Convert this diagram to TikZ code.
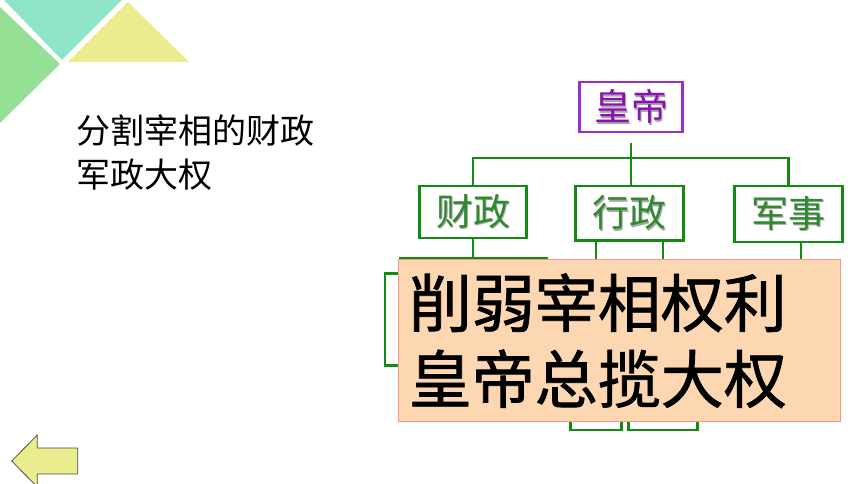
\documentclass[tikz,border=0pt]{standalone}
\usepackage{fontspec}
\setmainfont{Noto Sans CJK SC}
\newfontfamily\heavyfont[FakeBold=1.2]{Noto Sans CJK SC}
\usepackage{tikz}
\usetikzlibrary{calc}
\definecolor{tealtri}{HTML}{8EE4C8}
\definecolor{greentri}{HTML}{96E096}
\definecolor{yellowtri}{HTML}{EAEC8E}
\definecolor{empline}{HTML}{9B30C8}
\definecolor{emptext}{HTML}{8C10B4}
\definecolor{treeline}{HTML}{138A13}
\definecolor{treetext}{HTML}{2F8A2F}
\definecolor{peach}{HTML}{FCD7B2}
\definecolor{peachline}{HTML}{F3978A}
\newcommand{\shadowtext}[2]{\makebox[0pt][l]{\hspace{1.5pt}\raisebox{-1.5pt}{\textcolor{black!35}{#2}}}\textcolor{#1}{#2}}
\tikzset{
  treebox/.style={draw=treeline, line width=2.4pt, inner sep=0pt, font=\fontsize{37}{40}\selectfont},
  empbox/.style={draw=empline, line width=2.4pt, inner sep=0pt, font=\fontsize{37}{40}\selectfont},
  link/.style={treeline, line width=2.4pt}
}
\begin{document}
\begin{tikzpicture}[x=1pt,y=-1pt]
\useasboundingbox (0,0) rectangle (860,484);
\fill[tealtri] (4,0) -- (122,0) -- (62,60) -- cycle;
\fill[greentri] (0,7) -- (60,64) -- (0,123) -- cycle;
\fill[yellowtri] (128,2) -- (68,62) -- (189,62) -- cycle;

\node[anchor=west, align=left, inner sep=0pt, font=\fontsize{34}{44}\selectfont] (title) at (76,153) {分割宰相的财政\\军政大权};

\node[empbox, minimum width=103pt, minimum height=50pt] (emperor) at (631,107.3) {\shadowtext{emptext}{皇帝}};
\node[treebox, minimum width=107pt, minimum height=52pt] (finance) at (473,212) {\shadowtext{treetext}{财政}};
\node[treebox, minimum width=108pt, minimum height=54pt] (admin) at (629.3,213.3) {\shadowtext{treetext}{行政}};
\node[treebox, minimum width=108pt, minimum height=56pt] (army) at (788.3,214) {\shadowtext{treetext}{军事}};

\node[treebox, minimum width=30pt, minimum height=92pt] (finA) at (400,319.5) {};
\node[treebox, minimum width=30pt, minimum height=92pt] (finB) at (547,319.5) {};
\node[treebox, minimum width=51pt, minimum height=110pt] (admA) at (595.8,375) {};
\node[treebox, minimum width=69pt, minimum height=110pt] (admB) at (662.8,375) {};
\node[treebox, minimum width=50pt, minimum height=92pt] (armA) at (800.7,319.5) {};

\coordinate (top) at ($(emperor.south)+(0,10)$);
\draw[link] (top) -- (top |- admin.north);
\draw[link] (finance.north) |- (top |- 0,158.3) -| (army.north);
\draw[link] (finance.south) -- ++(0,19.3) coordinate (fork);
\draw[link] (finA.north) |- (fork) -| (finB.north);
\draw[link] (admA.north |- admin.south) -- (admA.north);
\draw[link] (admB.north |- admin.south) -- (admB.north);
\draw[link] (armA.north |- army.south) -- (armA.north);

\node[draw=peachline, fill=peach, line width=1pt, anchor=north west, minimum width=442pt, minimum height=162pt, text width=422pt, inner xsep=10pt, align=left, font=\fontsize{63}{76}\selectfont\heavyfont] (summary) at (398.3,259.3) {削弱宰相权利\\皇帝总揽大权};

\draw[fill=yellowtri, draw=black!70, line width=0.8pt] (11.7,461) -- (37.3,435) -- (37.3,448) -- (77.7,448) -- (77.7,474) -- (37.3,474) -- (37.3,487) -- cycle;
\end{tikzpicture}
\end{document}
